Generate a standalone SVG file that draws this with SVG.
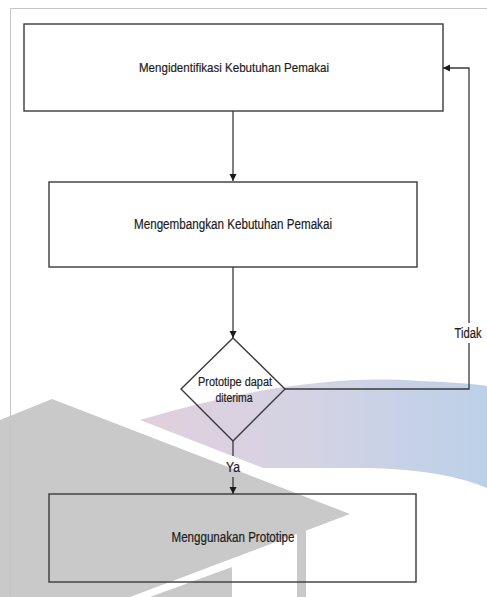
<svg xmlns="http://www.w3.org/2000/svg" width="487" height="597" viewBox="0 0 487 597">
  <defs>
    <linearGradient id="bandGrad" x1="140" y1="0" x2="487" y2="0" gradientUnits="userSpaceOnUse">
      <stop offset="0" stop-color="#e2cfdc"/>
      <stop offset="0.5" stop-color="#d3d3e4"/>
      <stop offset="1" stop-color="#bcd0e8"/>
    </linearGradient>
    <marker id="arrow" viewBox="0 0 10 10" refX="10" refY="5" markerWidth="7" markerHeight="8" markerUnits="userSpaceOnUse" orient="auto">
      <path d="M0,0 L10,5 L0,10 z" fill="#1a1a1a"/>
    </marker>
  </defs>
  <style>
    .box { fill: none; stroke: #3a3a3a; stroke-width: 1.4; }
    .edge { fill: none; stroke: #3a3a3a; stroke-width: 1.3; }
    .lbl { font-family: "Liberation Sans", Arial, sans-serif; fill: #1c1c1c; stroke: #1c1c1c; stroke-width: 0.2; text-anchor: middle; }
    .page { fill: none; stroke: #c4c4c4; stroke-width: 1; }
  </style>

  <rect width="487" height="597" fill="#ffffff"/>

  <!-- background emblem -->
  <g id="emblem">
    <path d="M140,420 Q300,372 420,381 Q470,383 487,386 L487,488 Q445,470 370,468 L263,468 Z" fill="url(#bandGrad)"/>
    <path d="M0,420 L52,399 L350,514 L130,597 L0,597 Z" fill="#c9c9c9"/>
    <path d="M232,567 L232,597 L150,597 Z" fill="#c9c9c9"/>
    <rect x="297" y="531" width="9" height="66" fill="#c9c9c9"/>
  </g>

  <!-- page frame -->
  <path class="page" d="M10.5,597 L10.5,8.5 L487,8.5"/>

  <g id="identify">
    <rect class="box" x="24" y="24" width="419" height="87"/>
    <text class="lbl" x="234" y="72" font-size="13.5" textLength="190" lengthAdjust="spacingAndGlyphs">Mengidentifikasi Kebutuhan Pemakai</text>
  </g>

  <g id="develop">
    <rect class="box" x="49" y="182" width="368" height="85"/>
    <text class="lbl" x="233" y="229" font-size="14" textLength="198" lengthAdjust="spacingAndGlyphs">Mengembangkan Kebutuhan Pemakai</text>
  </g>

  <g id="decision">
    <path class="box" d="M233,338 L285,389 L233,441 L181,389 Z"/>
    <text class="lbl" x="235" y="386" font-size="12" textLength="74" lengthAdjust="spacingAndGlyphs">Prototipe dapat</text>
    <text class="lbl" x="234" y="402" font-size="12" textLength="37" lengthAdjust="spacingAndGlyphs">diterima</text>
  </g>

  <g id="use">
    <rect class="box" x="49" y="494" width="367" height="88"/>
    <text class="lbl" x="233" y="542" font-size="14" textLength="123" lengthAdjust="spacingAndGlyphs">Menggunakan Prototipe</text>
  </g>

  <g id="connectors">
    <path class="edge" d="M233,111 L233,181" marker-end="url(#arrow)"/>
    <path class="edge" d="M233,267 L233,338" marker-end="url(#arrow)"/>
    <path class="edge" d="M233,441 L233,456"/>
    <path class="edge" d="M233,477 L233,494" marker-end="url(#arrow)"/>
    <path class="edge" d="M285,389 L469,389 L469,343"/>
    <path class="edge" d="M469,323 L469,68 L443,68" marker-end="url(#arrow)"/>
    <text class="lbl" x="233" y="472" font-size="14" textLength="14" lengthAdjust="spacingAndGlyphs">Ya</text>
    <text class="lbl" x="468" y="338" font-size="14" textLength="27" lengthAdjust="spacingAndGlyphs">Tidak</text>
  </g>
</svg>
